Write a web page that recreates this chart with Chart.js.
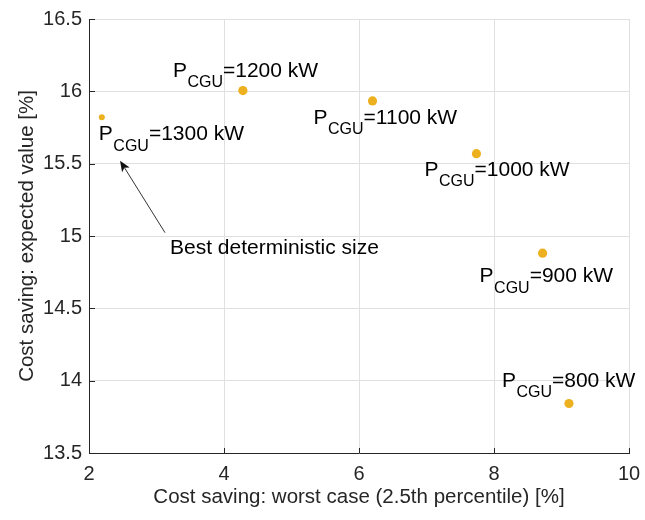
<!DOCTYPE html>
<html>
<head>
<meta charset="utf-8">
<script src="https://cdn.jsdelivr.net/npm/chart.js@4/dist/chart.umd.min.js"></script>
<style>
  html,body{margin:0;padding:0;background:#fff}
  #wrap{width:645px;height:520px}
</style>
</head>
<body>
<div id="wrap"><canvas id="sizeChart" width="645" height="520"></canvas></div>
<script>
// CGU sizes and their cost savings
const cguSizes   = ["1300 kW","1200 kW","1100 kW","1000 kW","900 kW","800 kW"];
const worstCase  = [2.19, 4.28, 6.20, 7.74, 8.72, 9.11];
const expected   = [15.82, 16.005, 15.934, 15.569, 14.881, 13.842];
const xTicks     = [2, 4, 6, 8, 10];
const yTicks     = [13.5, 14, 14.5, 15, 15.5, 16, 16.5];
// arrow annotation (data coords)
const arrowTail  = [3.126, 15.023];
const arrowHead  = [2.46, 15.521];
const noteAt     = [3.2, 14.876];
const noteText   = "Best deterministic size";

const FONT = "'Liberation Sans', Arial, Helvetica, sans-serif";
const AXIS = "#262626";

// where each label sits relative to its marker (px): left of "P", baseline
const labelOffsets = [[-3,23],[-70,-14],[-59,23],[-52,22],[-63,29],[-67,-17]];

const annotations = {
  id:"annotations",
  afterDraw(chart) {
    const {ctx, chartArea:a, scales:{x, y}} = chart;
    ctx.save();
    // inward tick marks
    ctx.strokeStyle = AXIS; ctx.lineWidth = 1;
    ctx.beginPath();
    xTicks.forEach(v => { const px = Math.round(x.getPixelForValue(v)) + 0.5; ctx.moveTo(px, a.bottom); ctx.lineTo(px, a.bottom - 5); });
    yTicks.forEach(v => { const py = Math.round(y.getPixelForValue(v)) + 0.5; ctx.moveTo(a.left, py); ctx.lineTo(a.left + 6, py); });
    ctx.stroke();

    // P_CGU labels
    ctx.fillStyle = "#000";
    ctx.textBaseline = "alphabetic";
    ctx.textAlign = "left";
    cguSizes.forEach((s, i) => {
      const px = x.getPixelForValue(worstCase[i]) + labelOffsets[i][0];
      const py = y.getPixelForValue(expected[i]) + labelOffsets[i][1];
      ctx.font = "21px " + FONT;
      ctx.fillText("P", px, py);
      let cx = px + ctx.measureText("P").width + 0.5;
      ctx.font = "16px " + FONT;
      ctx.fillText("CGU", cx, py + 10.5);
      cx += ctx.measureText("CGU").width;
      ctx.font = "21px " + FONT;
      ctx.fillText("=" + s, cx, py);
    });

    // arrow + note
    const tx = x.getPixelForValue(arrowTail[0]), ty = y.getPixelForValue(arrowTail[1]);
    const hx = x.getPixelForValue(arrowHead[0]), hy = y.getPixelForValue(arrowHead[1]);
    const ang = Math.atan2(hy - ty, hx - tx), L = 11, W = 4.5;
    ctx.strokeStyle = "#333"; ctx.lineWidth = 1;
    ctx.beginPath(); ctx.moveTo(tx, ty); ctx.lineTo(hx - Math.cos(ang)*L*0.8, hy - Math.sin(ang)*L*0.8); ctx.stroke();
    ctx.fillStyle = "#111";
    ctx.beginPath();
    ctx.moveTo(hx, hy);
    ctx.lineTo(hx - Math.cos(ang)*L - Math.sin(ang)*W, hy - Math.sin(ang)*L + Math.cos(ang)*W);
    ctx.lineTo(hx - Math.cos(ang)*L*0.75, hy - Math.sin(ang)*L*0.75);
    ctx.lineTo(hx - Math.cos(ang)*L + Math.sin(ang)*W, hy - Math.sin(ang)*L - Math.cos(ang)*W);
    ctx.closePath(); ctx.fill();
    ctx.fillStyle = "#000";
    ctx.font = "21px " + FONT;
    ctx.fillText(noteText, x.getPixelForValue(noteAt[0]), y.getPixelForValue(noteAt[1]));
    ctx.restore();
  }
};

new Chart(document.getElementById("sizeChart").getContext("2d"), {
  type:"scatter",
  data:{
    labels: cguSizes,
    datasets:[{
      label:"CGU size",
      data: worstCase.map((v,i)=>({x:v, y:expected[i]})),
      backgroundColor:"#EDB120",
      borderWidth:0,
      pointRadius: c => c.dataIndex === 0 ? 3 : 4.6
    }]
  },
  options:{
    responsive:false, animation:false,
    layout:{padding:{top:17, right:16, left:0, bottom:0}},
    plugins:{legend:{display:false}, tooltip:{enabled:false}},
    scales:{
      x:{
        type:"linear", min:2, max:10,
        afterBuildTicks: s => { s.ticks = xTicks.map(v=>({value:v})); },
        afterFit: s => { s.height = 67; s.paddingRight = 0; s.paddingLeft = 0; },
        grid:{color:"#e0e0e0", drawTicks:false},
        border:{color:AXIS, width:1},
        ticks:{font:{family:FONT, size:20}, color:AXIS, padding:9, maxRotation:0},
        title:{display:true, text:"Cost saving: worst case (2.5th percentile) [%]", color:AXIS, font:{family:FONT, size:20.5}, padding:{top:0, bottom:10}}
      },
      y:{
        type:"linear", min:13.5, max:16.5,
        afterBuildTicks: s => { s.ticks = yTicks.map(v=>({value:v})); },
        afterFit: s => { s.width = 89; },
        grid:{color:"#e0e0e0", drawTicks:false},
        border:{color:AXIS, width:1},
        ticks:{font:{family:FONT, size:20}, color:AXIS, padding:7, callback: v => String(+v.toFixed(1))},
        title:{display:true, text:"Cost saving: expected value [%]", color:AXIS, font:{family:FONT, size:20.5}, padding:{top:15, bottom:0}}
      }
    }
  },
  plugins:[annotations]
});
</script>
</body>
</html>
